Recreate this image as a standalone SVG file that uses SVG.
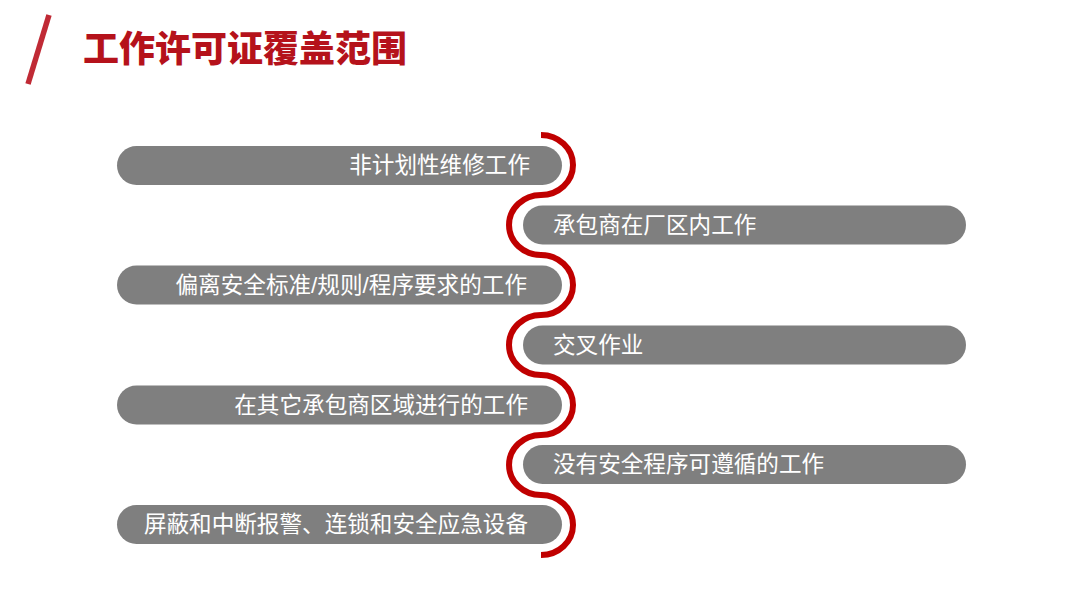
<svg xmlns="http://www.w3.org/2000/svg" width="1080" height="608" viewBox="0 0 1080 608">
<style>
.pill{fill:#7F7F7F}
.t{font-family:"Liberation Sans","Noto Sans CJK SC",sans-serif;font-size:22.6px;fill:#FFFFFF}
.l{text-anchor:end}
.title{font-family:"Noto Sans CJK SC",sans-serif;font-size:36px;font-weight:900;fill:#B5121B}
</style>
<rect width="1080" height="608" fill="#FFFFFF"/>
<g id="header">
<line x1="49" y1="15" x2="28" y2="84" stroke="#C02A35" stroke-width="5.5"/>
<text class="title" x="83" y="62">工作许可证覆盖范围</text>
</g>
<g id="connectors">
<path d="M541,135 A32,30 0 0 1 541,195 A32,30 0 0 0 541,255 A32,30 0 0 1 541,315 A32,30 0 0 0 541,375 A32,30 0 0 1 541,435 A32,30 0 0 0 541,495 A32,30 0 0 1 541,555" fill="none" stroke="#FFFFFF" stroke-width="10"/>
<path d="M541,135 A32,30 0 0 1 541,195 A32,30 0 0 0 541,255 A32,30 0 0 1 541,315 A32,30 0 0 0 541,375 A32,30 0 0 1 541,435 A32,30 0 0 0 541,495 A32,30 0 0 1 541,555" fill="none" stroke="#C00000" stroke-width="6"/>
</g>
<g id="item1"><rect class="pill" x="117" y="146" width="445" height="39" rx="19.5"/><text class="t l" x="530" y="173">非计划性维修工作</text></g>
<g id="item2"><rect class="pill" x="523" y="205.5" width="443" height="39" rx="19.5"/><text class="t" x="553" y="233">承包商在厂区内工作</text></g>
<g id="item3"><rect class="pill" x="117" y="265.5" width="445" height="39" rx="19.5"/><text class="t l" x="527" y="293">偏离安全标准/规则/程序要求的工作</text></g>
<g id="item4"><rect class="pill" x="523" y="325.5" width="443" height="39" rx="19.5"/><text class="t" x="553" y="353">交叉作业</text></g>
<g id="item5"><rect class="pill" x="117" y="385.5" width="445" height="39" rx="19.5"/><text class="t l" x="528" y="413">在其它承包商区域进行的工作</text></g>
<g id="item6"><rect class="pill" x="523" y="445" width="443" height="39" rx="19.5"/><text class="t" x="553" y="472">没有安全程序可遵循的工作</text></g>
<g id="item7"><rect class="pill" x="117" y="505" width="445" height="39" rx="19.5"/><text class="t l" x="528" y="532">屏蔽和中断报警、连锁和安全应急设备</text></g>
</svg>
